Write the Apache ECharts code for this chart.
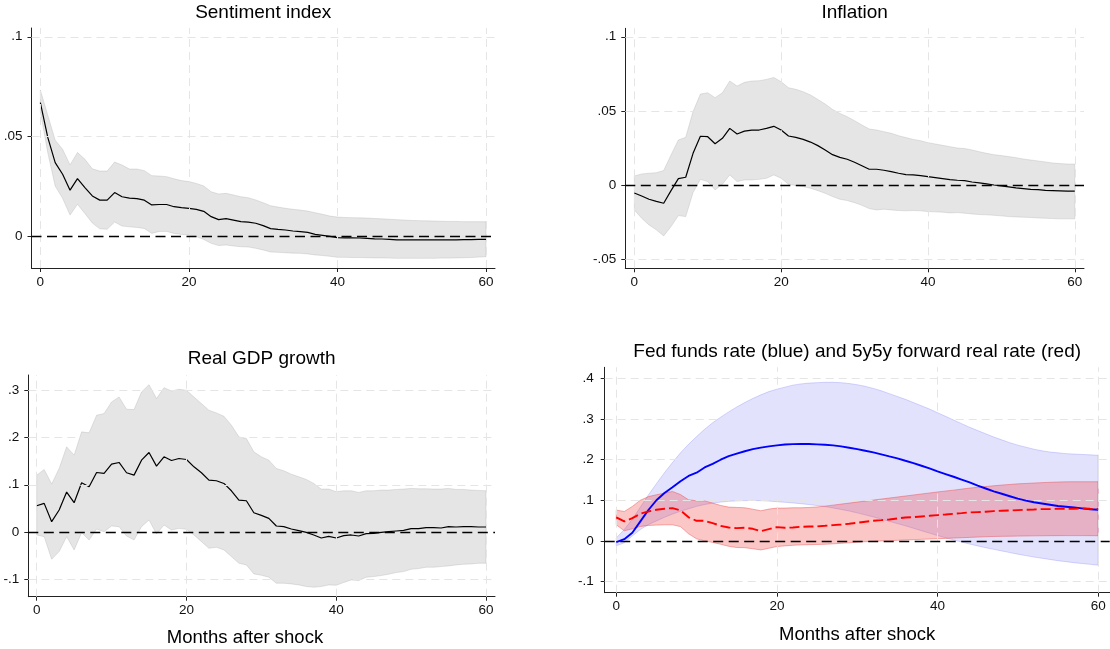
<!DOCTYPE html>
<html>
<head>
<meta charset="utf-8">
<script src="https://cdn.jsdelivr.net/npm/echarts@6/dist/echarts.min.js"></script>
<style>html,body{margin:0;padding:0;background:#fff}#c{width:1110px;height:649px}</style>
</head>
<body>
<div id="c"></div>
<script>
const months = [0,1,2,3,4,5,6,7,8,9,10,11,12,13,14,15,16,17,18,19,20,21,22,23,24,25,26,27,28,29,30,31,32,33,34,35,36,37,38,39,40,41,42,43,44,45,46,47,48,49,50,51,52,53,54,55,56,57,58,59,60];
const xTicks = [0,20,40,60];
const yTicks1 = [0,0.05,0.1];
const yTicks2 = [-0.05,0,0.05,0.1];
const yTicks3 = [-0.1,0,0.1,0.2,0.3];
const yTicks4 = [-0.1,0,0.1,0.2,0.3,0.4];
const titles = ["Sentiment index","Inflation","Real GDP growth","Fed funds rate (blue) and 5y5y forward real rate (red)"];
const xTitle = "Months after shock";

const sentiment = [.0669,.0495,.0368,.031,.023,.0288,.0243,.0201,.018,.018,.0218,.0197,.019,.0188,.018,.0156,.0158,.0158,.0147,.0142,.0139,.0134,.0124,.0097,.0082,.0087,.008,.0072,.007,.0064,.0052,.0037,.0033,.003,.0025,.0022,.0018,.0008,.0003,-.0002,-.0008,-.0009,-.0009,-.001,-.0012,-.0014,-.0015,-.0017,-.0019,-.0019,-.0019,-.0019,-.0019,-.0019,-.0019,-.0019,-.0019,-.0018,-.0018,-.0017,-.0017];
const sentimentHi = [.0733,.0606,.0481,.0435,.0357,.0419,.0385,.0337,.0326,.0326,.0371,.0356,.0336,.0336,.0328,.0303,.0301,.0298,.0287,.0278,.0273,.0264,.0251,.0222,.0211,.0214,.0206,.0197,.0192,.0181,.0167,.0152,.0145,.0139,.0134,.013,.0125,.0117,.0109,.0100,.0095,.0093,.0092,.0091,.009,.0088,.0086,.0084,.0082,.008,.0078,.0077,.0076,.0075,.0074,.0073,.0073,.0072,.0072,.0072,.0072];
const sentimentLo = [.0626,.0418,.0251,.0189,.0105,.0159,.0113,.0065,.0036,.0034,.0070,.0050,.0046,.0043,.0038,.0013,.0023,.0023,.0013,.0008,.0005,-.0003,-.0017,-.0037,-.0048,-.0045,-.005,-.0054,-.0055,-.0062,-.007,-.008,-.0082,-.0084,-.0086,-.0087,-.009,-.0095,-.0098,-.0102,-.0107,-.0107,-.0108,-.0108,-.0109,-.011,-.011,-.0111,-.0112,-.0112,-.0112,-.0112,-.0112,-.0112,-.0111,-.0111,-.011,-.0109,-.0108,-.0106,-.0104];

const inflation = [-.0052,-.0072,-.0094,-.0108,-.0121,-.0036,.0045,.0054,.0215,.033,.0327,.028,.0316,.0383,.0345,.0365,.0372,.0372,.0383,.0397,.0372,.0332,.0323,.0309,.0291,.0267,.0238,.0206,.0188,.0175,.0155,.0132,.0108,.0108,.0101,.0092,.0081,.0072,.007,.0065,.0058,.0052,.0045,.0038,.0034,.0031,.0022,.0016,.0009,.0002,-.0004,-.0011,-.0018,-.0022,-.0027,-.0029,-.0034,-.0036,-.0038,-.004,-.004];
const inflationHi = [.0063,.0076,.0081,.0085,.0099,.0204,.0305,.0323,.0496,.0614,.0623,.059,.0623,.0702,.0668,.0693,.0702,.0704,.0713,.0726,.0697,.0657,.0646,.063,.0608,.0578,.0547,.0511,.0484,.0462,.0435,.0406,.0379,.0372,.0361,.035,.0334,.0321,.0309,.03,.0287,.0278,.0269,.026,.0251,.0247,.0238,.0226,.0215,.0206,.02,.0193,.0186,.0177,.017,.0164,.0157,.015,.0146,.0143,.0143];
const inflationLo = [-.0166,-.0222,-.0267,-.03,-.0341,-.0278,-.0204,-.0211,-.0049,.004,.0025,-.0031,.0007,.007,.0025,.0036,.0036,.004,.0047,.007,.0047,.0007,-.0002,-.0009,-.002,-.0036,-.0054,-.0076,-.0094,-.0103,-.0117,-.0135,-.0157,-.0166,-.0161,-.0166,-.017,-.0172,-.017,-.0172,-.0177,-.0179,-.0181,-.0186,-.0184,-.0188,-.0193,-.0197,-.0199,-.0202,-.0206,-.0211,-.0213,-.0215,-.0217,-.022,-.0222,-.0224,-.0226,-.0226,-.0226];

const gdp = [.0556,.0606,.0218,.0465,.0845,.062,.1042,.0958,.126,.124,.1437,.1472,.1254,.1204,.1521,.1683,.1394,.1592,.1514,.1556,.1535,.138,.1254,.1099,.1085,.1028,.0873,.0676,.0662,.0408,.0352,.0289,.0127,.0113,.0063,.0028,-.0007,-.0063,-.0127,-.0092,-.0127,-.0077,-.0063,-.0085,-.0035,-.0028,-.0007,.0007,.0021,.0035,.007,.007,.0092,.0092,.0085,.0113,.0106,.0113,.0113,.0106,.0106];
const gdpHi = [.1204,.1324,.1014,.1345,.1803,.1627,.212,.2099,.2472,.2507,.2754,.2859,.2599,.2592,.2965,.312,.2824,.3056,.2986,.3021,.30,.2859,.2718,.2577,.2521,.2451,.2261,.2014,.1979,.1697,.1592,.1521,.1345,.1296,.1225,.1169,.1113,.1028,.0908,.0908,.0852,.0873,.0873,.0838,.0873,.0873,.0887,.0887,.0901,.0908,.0923,.0915,.0915,.0908,.0908,.0923,.0901,.0901,.0887,.088,.0873];
const gdpLo = [-.0063,-.0099,-.0577,-.0415,-.0099,-.038,-.0014,-.0169,.0063,.0007,.0127,.0113,-.0085,-.0169,.0113,.0254,-.0042,.0148,.0042,.0077,.0056,-.0063,-.0204,-.0345,-.0324,-.038,-.0521,-.0662,-.0697,-.0887,-.0915,-.0958,-.1085,-.1085,-.1099,-.112,-.1155,-.1169,-.1155,-.112,-.1127,-.107,-.1014,-.1028,-.0958,-.0944,-.0922,-.0894,-.0859,-.0838,-.0789,-.0775,-.0746,-.0746,-.0732,-.0718,-.0697,-.0683,-.0676,-.0662,-.0662];

const fedFunds = [-.003,.004,.02,.048,.076,.1,.118,.132,.147,.16,.168,.181,.19,.2,.209,.215,.221,.226,.23,.2329,.2355,.2375,.2385,.239,.2387,.2379,.237,.2354,.2329,.2296,.2263,.2222,.2181,.2132,.2082,.2033,.1975,.1918,.1852,.1786,.1712,.1646,.158,.151,.144,.136,.129,.122,.116,.11,.104,.099,.095,.092,.089,.086,.084,.082,.08,.078,.0765];
const fedFundsHi = [.007,.028,.053,.083,.113,.141,.168,.193,.217,.238,.257,.275,.291,.305,.318,.33,.341,.351,.36,.368,.374,.379,.384,.387,.389,.39,.391,.391,.39,.388,.385,.381,.376,.37,.363,.356,.349,.341,.333,.325,.316,.307,.298,.289,.28,.272,.264,.256,.249,.242,.236,.231,.226,.222,.219,.217,.215,.214,.213,.212,.211];
const fedFundsLo = [-.0123,-.005,.012,.028,.04,.049,.058,.066,.073,.079,.085,.0895,.093,.0955,.0975,.0985,.0992,.0996,.099,.098,.0965,.095,.0935,.0915,.0895,.087,.0845,.081,.0775,.0735,.069,.064,.059,.0535,.048,.0425,.037,.031,.025,.019,.013,.0075,.002,-.003,-.008,-.0125,-.017,-.021,-.025,-.029,-.033,-.0365,-.04,-.043,-.046,-.049,-.0515,-.054,-.056,-.058,-.06];

const realRate = [.0576,.0477,.056,.0667,.0724,.0765,.079,.0807,.075,.058,.0494,.0494,.0436,.037,.0329,.0313,.0321,.0296,.0239,.0288,.0337,.0321,.0329,.0346,.0354,.0354,.037,.0387,.0403,.042,.0444,.0469,.0494,.051,.0527,.0551,.0576,.0584,.0601,.0617,.0634,.065,.0667,.0683,.07,.0708,.0716,.0733,.0741,.0749,.0757,.0765,.0773,.0782,.0782,.079,.079,.079,.0798,.079,.0785];
const realRateHi = [.0757,.0724,.0848,.1,.109,.1136,.1177,.1218,.114,.1012,.0988,.0985,.093,.0872,.0831,.0823,.0815,.078,.0741,.0782,.0807,.0807,.0815,.0815,.0823,.0835,.0855,.088,.0905,.093,.0955,.098,.1005,.103,.1055,.108,.1105,.113,.1155,.118,.1205,.1228,.125,.1275,.13,.132,.134,.1358,.1375,.139,.1405,.1415,.1425,.1435,.1443,.145,.1455,.1457,.1457,.1457,.1457];
const realRateLo = [.0395,.0247,.0296,.0354,.0379,.0387,.0395,.0395,.035,.0173,.0049,.0,-.004,-.0085,-.0135,-.0165,-.017,-.0195,-.0225,-.0185,-.014,-.0125,-.011,-.010,-.0095,-.009,-.0085,-.0075,-.0062,-.0049,-.0035,-.0022,-.0012,-.0004,.0004,.0012,.002,.0028,.0036,.0044,.0052,.006,.0068,.0076,.0084,.0092,.01,.0107,.011,.0113,.0116,.0119,.0122,.0124,.0126,.0127,.0128,.0128,.0128,.0127,.0125];

const FONT = "'Liberation Sans', Arial, sans-serif";
const pair = arr => months.map((m, i) => [m, arr[i]]);
const fmtY = v => { if (v === 0) return '0'; let s = String(+v.toFixed(4)); return s.replace('0.', '.'); };

const panels = [
  {grid:{left:31.5, top:28, width:463.5, height:240}, xmin:-1.19, xmax:61.21, ymin:-0.01606, ymax:0.1044, yTicks:yTicks1, labelMargin:9, titleY:12.8},
  {grid:{left:625.3, top:28.3, width:458.7, height:240}, xmin:-1.23, xmax:61.26, ymin:-0.0559, ymax:0.1057, yTicks:yTicks2, labelMargin:9, titleY:12.5},
  {grid:{left:28.3, top:375, width:466.7, height:221.7}, xmin:-1.12, xmax:61.2, ymin:-0.137, ymax:0.3324, yTicks:yTicks3, labelMargin:9, titleY:358.3},
  {grid:{left:604.7, top:367.3, width:505, height:225.4}, xmin:-1.44, xmax:61.44, ymin:-0.128, ymax:0.428, yTicks:yTicks4, labelMargin:11, titleY:351.5}
];

const grids = [], xAxes = [], yAxes = [], series = [], graphics = [];
panels.forEach((p, k) => {
  grids.push(Object.assign({containLabel:false}, p.grid));
  xAxes.push({
    type:'value', gridIndex:k, min:p.xmin, max:p.xmax,
    axisLine:{show:true, onZero:false, lineStyle:{color:'#222', width:1}},
    axisTick:{show:true, length:4, customValues:xTicks, lineStyle:{color:'#222'}},
    axisLabel:{customValues:xTicks, fontSize:13.5, color:'#111', fontFamily:FONT, margin:7},
    splitLine:{show:false}
  });
  yAxes.push({
    type:'value', gridIndex:k, min:p.ymin, max:p.ymax,
    axisLine:{show:true, onZero:false, lineStyle:{color:'#222', width:1}},
    axisTick:{show:true, length:4, customValues:p.yTicks, lineStyle:{color:'#222'}},
    axisLabel:{customValues:p.yTicks, fontSize:13.5, color:'#111', fontFamily:FONT, margin:p.labelMargin, formatter:fmtY},
    splitLine:{show:false}
  });
  series.push({
    type:'line', xAxisIndex:k, yAxisIndex:k, data:[], z:1, silent:true,
    markLine:{silent:true, symbol:['none','none'], label:{show:false}, animation:false,
      lineStyle:{color:'#e5e5e5', type:[8,5], width:1},
      data: xTicks.map(v => ({xAxis:v})).concat(p.yTicks.filter(v => v !== 0).map(v => ({yAxis:v})))}
  });
  graphics.push({type:'text', x:p.grid.left + p.grid.width/2, y:p.titleY,
    style:{text:titles[k], fontSize:19, fontFamily:FONT, fill:'#000', align:'center', verticalAlign:'middle'}});
});

function band(k, lo, hi, fill, border, z) {
  series.push({
    type:'custom', xAxisIndex:k, yAxisIndex:k, z:z, silent:true, animation:false,
    data: months.map((m, i) => [m, lo[i], hi[i]]),
    encode:{x:0, y:[1,2]},
    renderItem: (params, api) => {
      if (params.dataIndex !== 0) return null;
      const top = months.map((m, i) => api.coord([m, hi[i]]));
      const bot = months.map((m, i) => api.coord([m, lo[i]])).reverse();
      return {type:'polygon', shape:{points: top.concat(bot)},
        style:{fill:fill, stroke:border, lineWidth:0.9}};
    }
  });
}
function mainLine(k, arr, color, width, type, z, zero) {
  const s = {type:'line', xAxisIndex:k, yAxisIndex:k, data:pair(arr), symbol:'none',
    lineStyle:{color:color, width:width, type:type}, z:z, silent:true, animation:false};
  if (zero) s.markLine = {silent:true, symbol:['none','none'], label:{show:false}, animation:false,
    lineStyle:{color:'#000', type:[10,5.5], width:1.35}, data:[{yAxis:0}]};
  series.push(s);
}

const GRAYFILL = 'rgba(190,190,190,0.4)', GRAYBORDER = 'rgba(160,160,160,0.3)';
band(0, sentimentLo, sentimentHi, GRAYFILL, GRAYBORDER, 2);
mainLine(0, sentiment, '#000', 1.2, 'solid', 4, true);
band(1, inflationLo, inflationHi, GRAYFILL, GRAYBORDER, 2);
mainLine(1, inflation, '#000', 1.2, 'solid', 4, true);
band(2, gdpLo, gdpHi, GRAYFILL, GRAYBORDER, 2);
mainLine(2, gdp, '#000', 1.2, 'solid', 4, true);
band(3, fedFundsLo, fedFundsHi, 'rgba(110,110,245,0.2)', 'rgba(110,110,245,0.3)', 2);
band(3, realRateLo, realRateHi, 'rgba(240,50,50,0.28)', 'rgba(235,60,60,0.45)', 3);
mainLine(3, fedFunds, '#0000ff', 1.9, 'solid', 5, true);
mainLine(3, realRate, '#ff0000', 1.9, [10,4], 6, false);

graphics.push({type:'text', x:245, y:638, style:{text:xTitle, fontSize:18.5, fontFamily:FONT, fill:'#000', align:'center', verticalAlign:'middle'}});
graphics.push({type:'text', x:857.2, y:634.5, style:{text:xTitle, fontSize:18.5, fontFamily:FONT, fill:'#000', align:'center', verticalAlign:'middle'}});

const chart = echarts.init(document.getElementById('c'), null, {renderer:'canvas'});
chart.setOption({
  animation:false,
  backgroundColor:'#fff',
  grid:grids, xAxis:xAxes, yAxis:yAxes, series:series,
  graphic:graphics
});
</script>
</body>
</html>
